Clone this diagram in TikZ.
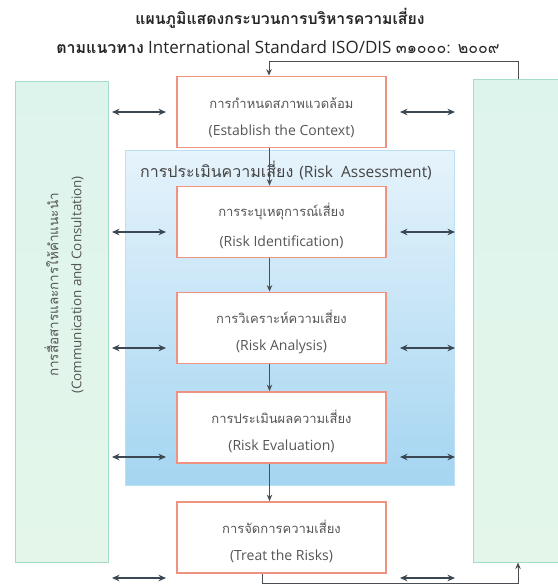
\documentclass[tikz,border=0pt]{standalone}
\usepackage{fontspec}
\setmainfont{Open Sans}
\newfontfamily\thai[Script=Thai]{Loma}
\usetikzlibrary{arrows.meta}
\definecolor{arr}{HTML}{3B4753}
\definecolor{flowgrey}{HTML}{4A4F55}
\definecolor{boxred}{HTML}{EF9280}
\definecolor{txtgrey}{HTML}{555555}
\definecolor{sidegreen}{HTML}{A6DCC6}
\definecolor{mintA}{HTML}{DDF4EC}
\definecolor{mintB}{HTML}{E4F6EA}
\definecolor{blueA}{HTML}{E6F3FB}
\definecolor{blueB}{HTML}{A4D5F1}
\definecolor{blueedge}{HTML}{BCDFF3}
\newcommand{\thb}[1]{\rule{0pt}{22pt}{\fontsize{13}{14}\selectfont\thai #1}}
\newcommand{\enb}[1]{{\fontsize{14}{16}\selectfont #1}}
\tikzset{
  procbox/.style={draw=boxred, line width=1.8pt, fill=white, minimum width=209pt,
    minimum height=71pt, inner sep=0pt, align=center, text=txtgrey},
  sidebox/.style={draw=sidegreen, line width=1pt, inner sep=0pt, top color=mintA, bottom color=mintB},
  twoway/.style={draw=arr, line width=1.4pt, {Stealth[length=7.5pt,width=6.5pt]}-{Stealth[length=7.5pt,width=6.5pt]}},
  flow/.style={draw=flowgrey, line width=1pt, -{Stealth[length=6.5pt,width=5.5pt]}},
}
\begin{document}
\begin{tikzpicture}[x=1pt,y=-1pt]
\useasboundingbox (0,0) rectangle (557,586);
% titles
\node[font=\fontsize{15.8}{18}\selectfont\bfseries, text=black!85] (t1) at (280,18) {\thai แผนภูมิแสดงกระบวนการบริหารความเสี่ยง};
\node[font=\fontsize{17}{19}\selectfont, text=black!85] (t2) at (278,47) {{\fontsize{16}{18}\selectfont\thai\bfseries ตามแนวทาง} International Standard ISO/DIS {\fontsize{16}{18}\selectfont\thai ๓๑๐๐๐: ๒๐๐๙}};
% side boxes
\node[sidebox, minimum width=93pt, minimum height=481pt] (L) at (61.5,321.5) {};
\node[sidebox, minimum width=100pt, minimum height=483pt] (R) at (523,320.5) {};
\node[rotate=90, align=center, text=txtgrey] (Ltxt) at (64,285)
  {{\fontsize{13.5}{15}\selectfont\thai การสื่อสารและการให้คำแนะนำ}\\[11pt]{\fontsize{13.4}{15}\selectfont (Communication and Consultation)}};
% risk assessment region
\node[draw=blueedge, line width=0.8pt, top color=blueA, bottom color=blueB, minimum width=329pt, minimum height=335pt, inner sep=0pt] (A) at (289.5,317.5) {};
\node[text=txtgrey!80!black] (Alab) at (286,170) {{\fontsize{16}{18}\selectfont\thai การประเมินความเสี่ยง}\hspace{6pt}{\fontsize{15.5}{18}\selectfont (Risk~~Assessment)}};
% process boxes
\node[procbox] (E) at (281.5,112) {\thb{การกำหนดสภาพแวดล้อม}\\[15pt]\enb{(Establish the Context)}};
\node[procbox] (I) at (281.5,222) {\thb{การระบุเหตุการณ์เสี่ยง}\\[15pt]\enb{(Risk Identification)}};
\node[procbox] (N) at (281.5,328) {\thb{การวิเคราะห์ความเสี่ยง}\\[15pt]\enb{(Risk Analysis)}};
\node[procbox] (V) at (281.5,427.5) {\thb{การประเมินผลความเสี่ยง}\\[15pt]\enb{(Risk Evaluation)}};
\node[procbox] (T) at (281.5,537.5) {\thb{การจัดการความเสี่ยง}\\[15pt]\enb{(Treat the Risks)}};
% flow arrows
\draw[flow] ([xshift=-12pt]E.south) -- ([xshift=-12pt]I.north);
\draw[flow] ([xshift=-12pt]I.south) -- ([xshift=-12pt]N.north);
\draw[flow] ([xshift=-12pt]N.south) -- ([xshift=-12pt]V.north);
\draw[flow] ([xshift=-12pt]V.south) -- ([xshift=-12pt]T.north);
\draw[flow] ([xshift=-5pt]R.north) -- ++(0,-17) -| ([xshift=-12.5pt]E.north);
\draw[flow] ([xshift=-19.5pt]T.south) -- ++(0,10) -| ([xshift=-5pt]R.south);
% two-way arrows
\foreach \k/\yy in {1/112,2/232,3/348,4/457,5/578}{
  \coordinate (la\k) at (112,\yy);
  \coordinate (lb\k) at (166,\yy);
  \coordinate (ra\k) at (400,\yy);
  \coordinate (rb\k) at (455,\yy);
  \draw[twoway] (la\k) -- (lb\k);
  \draw[twoway] (ra\k) -- (rb\k);
}
\end{tikzpicture}
\end{document}
